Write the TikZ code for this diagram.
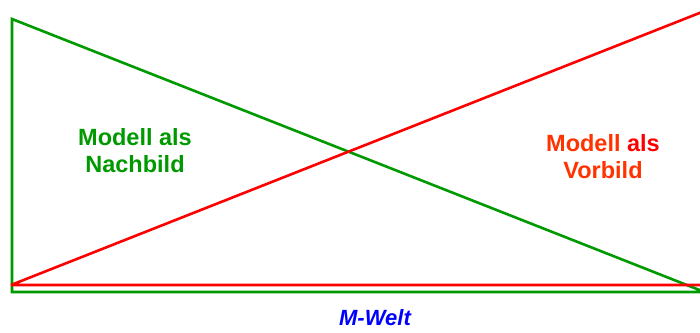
\documentclass[tikz,border=0pt]{standalone}
\usepackage{fontspec}
\setmainfont{Liberation Sans}
\definecolor{lgreen}{RGB}{0,153,0}
\definecolor{lred}{RGB}{255,0,0}
\definecolor{ored}{RGB}{255,51,0}
\definecolor{lblue}{RGB}{0,0,255}
\begin{document}
\begin{tikzpicture}[x=1pt,y=-1pt,
  gline/.style={draw=lgreen,line width=2.6pt,line join=miter},
  rline/.style={draw=lred,line width=2.6pt,line join=bevel},
  lbl/.style={font=\fontsize{23.5}{27}\selectfont\bfseries,align=center,inner sep=0pt}]
\useasboundingbox (0,0) rectangle (700,332);
\coordinate (gt) at (12,19);
\coordinate (gb) at (12,292);
\coordinate (gr) at (702,292);
\coordinate (ge) at (702,291);
\coordinate (rs) at (11,285);
\coordinate (rh) at (702,285);
\coordinate (re) at (702,12);
\draw[gline] (gr) -- (gb) -- (gt) -- (ge);
\draw[rline] (rh) -- (rs) -- (re);
\node[lbl,text=lgreen] (nach) at (135,151) {Modell als\\Nachbild};
\node[lbl,text=ored] (vor) at (603,157) {Modell \textcolor{lred}{als}\\Vorbild};
\node[font=\fontsize{22}{26}\selectfont\bfseries\itshape,text=lblue,inner sep=0pt] (mw) at (375,318) {M-Welt};
\end{tikzpicture}
\end{document}
